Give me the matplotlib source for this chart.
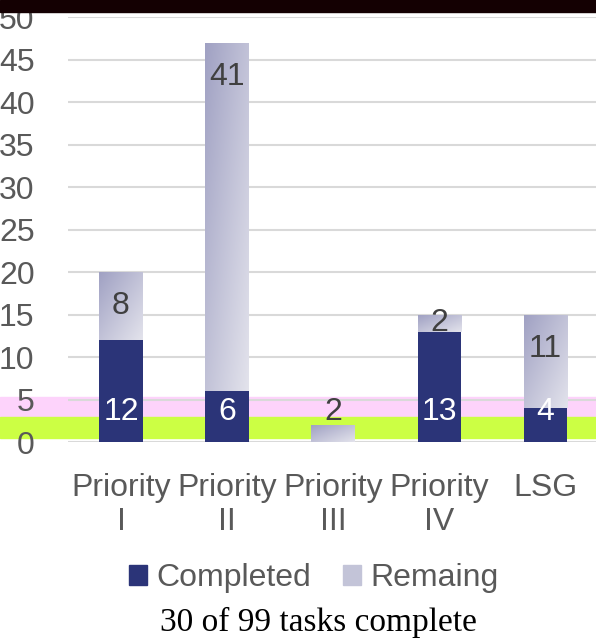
import numpy as np
import matplotlib
matplotlib.use("Agg")
import matplotlib.pyplot as plt
from matplotlib.patches import Patch, Rectangle
from matplotlib.colors import LinearSegmentedColormap
import matplotlib.transforms as mtransforms

categories = ["Priority\nI", "Priority\nII", "Priority\nIII", "Priority\nIV", "LSG"]
completed = [12, 6, 0, 13, 4]
remaining = [8, 41, 2, 2, 11]
summary = "30 of 99 tasks complete"

navy = "#2B3478"
grey_text = "#595959"
grad = LinearSegmentedColormap.from_list("rem", ["#A0A1C3", "#E3E3EC"])

plt.rcParams["font.family"] = ["Liberation Sans", "DejaVu Sans"]

fig = plt.figure(figsize=(5.96, 6.39), dpi=100)
ax = fig.add_axes([0.114, 0.308, 0.89, 0.665])

x = np.arange(len(categories))
width = 0.41

# highlight bands, across the whole figure width (behind gridlines and bars)
blend = mtransforms.blended_transform_factory(fig.transFigure, ax.transData)
ax.add_patch(Rectangle((0, 2.94), 1, 2.36, transform=blend, color="#FDD3FB",
                       zorder=0.1, clip_on=False))
ax.add_patch(Rectangle((0, 0.47), 1, 2.47, transform=blend, color="#CCFF44",
                       zorder=0.1, clip_on=False))
ax.set_facecolor("none")

ax.bar(x, completed, width, color=navy, zorder=3)
rem_bars = ax.bar(x, remaining, width, bottom=completed, color="none", zorder=3)

# gradient fill for the remaining segments
u, v = np.meshgrid(np.linspace(0, 1, 60), np.linspace(1, 0, 120))
shade = (u + (1 - v)) / 2
for b in rem_bars:
    x0, y0 = b.get_x(), b.get_y()
    im = ax.imshow(shade, cmap=grad, extent=[x0, x0 + b.get_width(), y0, y0 + b.get_height()],
                   aspect="auto", zorder=3, origin="upper")
    im.set_clip_path(b)

ax.set_xlim(-0.5, len(categories) - 0.5)
ax.set_ylim(0, 50)
ax.set_yticks(np.arange(0, 51, 5))
ax.yaxis.grid(True, color="#D9D9D9", linewidth=1.5, zorder=1)
ax.set_axisbelow(True)
for s in ax.spines.values():
    s.set_visible(False)
ax.tick_params(length=0, labelsize=23, labelcolor=grey_text)
ax.tick_params(axis="y", pad=24)
ax.set_xticks(x)
ax.set_xticklabels(categories, va="top", linespacing=1.2)
ax.tick_params(axis="x", pad=22)

for i in range(len(categories)):
    if completed[i] > 0:
        ax.text(x[i], 3.5, str(completed[i]), ha="center", va="center",
                color="white", fontsize=23, zorder=5)
    top = completed[i] + remaining[i]
    ly = max(top - 4, completed[i] + remaining[i] / 2, 3.5)
    ax.text(x[i], ly, str(remaining[i]), ha="center", va="center",
            color="#404040", fontsize=23, zorder=5)

handles = [Patch(color=navy, label="Completed"), Patch(color="#C3C4D8", label="Remaing")]
fig.legend(handles=handles, loc="center", bbox_to_anchor=(0.527, 0.095), ncol=2,
           frameon=False, fontsize=23, handlelength=0.55, handleheight=0.55,
           handletextpad=0.3, columnspacing=1.0, labelcolor=grey_text)

fig.text(0.535, 0.026, summary, ha="center", va="center", fontsize=24,
         family=["Liberation Serif", "DejaVu Serif"], color="black")

# dark strip along the top edge
fig.patches.append(Rectangle((0, 1 - 12 / 639), 1, 12 / 639, transform=fig.transFigure,
                             color="#140002", zorder=10))

fig.savefig("out.png", dpi=100)
